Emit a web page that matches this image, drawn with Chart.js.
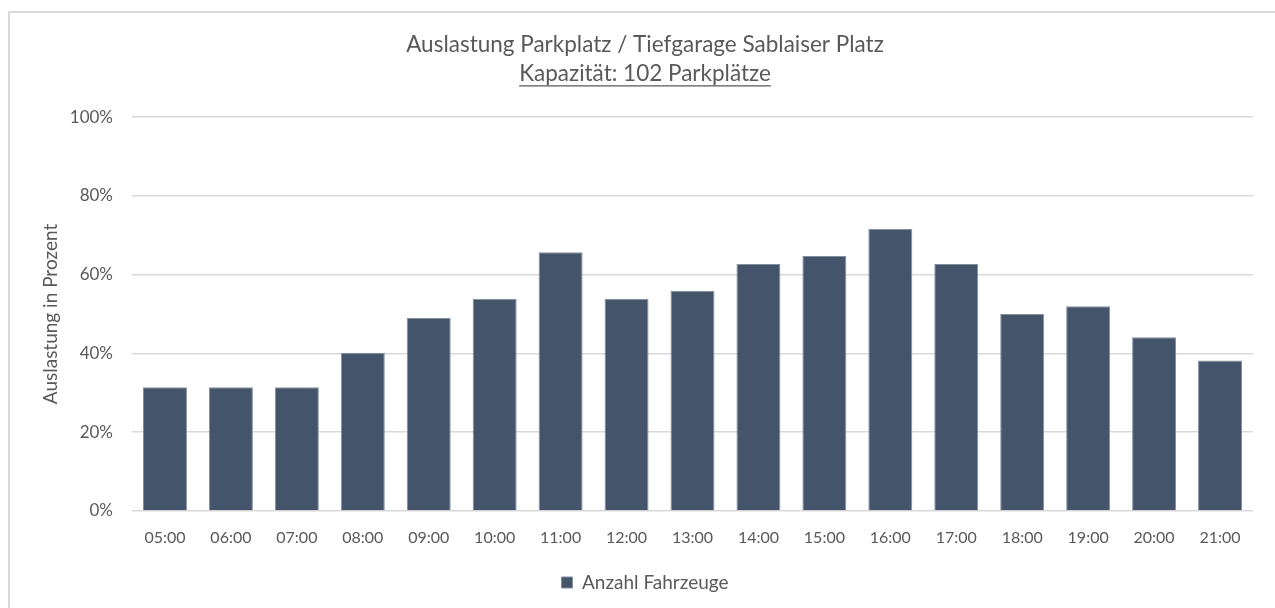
<!DOCTYPE html>
<html>
<head>
<meta charset="utf-8">
<script src="https://cdn.jsdelivr.net/npm/chart.js@4.4.0/dist/chart.umd.min.js"></script>
<style>
  html, body { margin: 0; padding: 0; background: #fff; overflow: hidden; }
  #frame { position: absolute; left: 8px; top: 11px; width: 1400px; height: 700px;
           border-left: 2px solid #d9d9d9; border-top: 2px solid #d9d9d9; }
  #wrap { position: absolute; left: 0; top: 0; width: 1290px; height: 608px; }
</style>
</head>
<body>
<div id="frame"></div>
<div id="wrap"><canvas id="myChart"></canvas></div>
<script>
(() => {
  'use strict'

  const hours = ['05:00', '06:00', '07:00', '08:00', '09:00', '10:00', '11:00', '12:00', '13:00',
    '14:00', '15:00', '16:00', '17:00', '18:00', '19:00', '20:00', '21:00'];
  // Auslastung in %
  const occupancy = [31.4, 31.4, 31.4, 40.2, 49.0, 53.9, 65.7, 53.9, 55.9,
    62.7, 64.7, 71.6, 62.7, 50.0, 52.0, 44.1, 38.2];
  const yTicks = [0, 20, 40, 60, 80, 100];
  const titleLines = ['Auslastung Parkplatz / Tiefgarage Sablaiser Platz', 'Kapazität: 102 Parkplätze'];

  const textColor = '#595959';
  const barColor = '#44546A';

  // underline the second title line
  const underline = {
    id: 'underline',
    afterDraw(chart) {
      const tb = chart.titleBlock;
      if (!tb) return;
      const c = chart.ctx;
      const opts = chart.options.plugins.title;
      const size = opts.font.size;
      const lh = size * opts.font.lineHeight;
      c.save();
      c.font = size + 'px ' + opts.font.family;
      const w = c.measureText(titleLines[1]).width;
      const cx = (tb.left + tb.right) / 2;
      const y = tb.top + opts.padding.top + lh * 1.5 + size * 0.55;
      c.strokeStyle = textColor;
      c.lineWidth = 1.3;
      c.beginPath();
      c.moveTo(cx - w / 2, y);
      c.lineTo(cx + w / 2, y);
      c.stroke();
      c.restore();
    }
  };

  Chart.defaults.font.family = 'Lato, sans-serif';
  Chart.defaults.color = textColor;

  new Chart(document.getElementById('myChart'), {
    type: 'bar',
    data: {
      labels: hours,
      datasets: [{
        label: 'Anzahl Fahrzeuge',
        data: occupancy,
        backgroundColor: barColor,
        borderColor: '#8390a0',
        borderWidth: 1,
        barPercentage: 0.667,
        categoryPercentage: 1
      }]
    },
    options: {
      responsive: true,
      maintainAspectRatio: false,
      animation: false,
      layout: { padding: { left: 37, right: 37, top: 0, bottom: 6 } },
      scales: {
        x: {
          afterFit(scale) { scale.height = 54; },
          grid: { display: false, drawTicks: false },
          border: { display: false },
          ticks: { font: { size: 16 }, padding: 17, color: textColor }
        },
        y: {
          min: 0,
          max: 100,
          afterBuildTicks(scale) {
            scale.ticks = yTicks.map(v => ({ value: v }));
          },
          afterFit(scale) { scale.width = 95; },
          grid: { color: '#d9d9d9', lineWidth: 1.5, drawTicks: false },
          border: { display: false },
          ticks: {
            font: { size: 17 },
            padding: 19,
            color: textColor,
            callback: v => v + '%'
          },
          title: {
            display: true,
            text: 'Auslastung in Prozent',
            font: { size: 19 },
            color: textColor,
            padding: { top: 2, bottom: 0 }
          }
        }
      },
      plugins: {
        title: {
          display: true,
          text: titleLines,
          color: textColor,
          font: { size: 22.5, weight: 'normal', lineHeight: 1.29 },
          padding: { top: 30, bottom: 29 }
        },
        legend: {
          position: 'bottom',
          labels: {
            boxWidth: 11,
            boxHeight: 11,
            padding: 8,
            font: { size: 19 },
            color: textColor
          }
        },
        tooltip: { enabled: false }
      }
    },
    plugins: [underline]
  });
})()
</script>
</body>
</html>
